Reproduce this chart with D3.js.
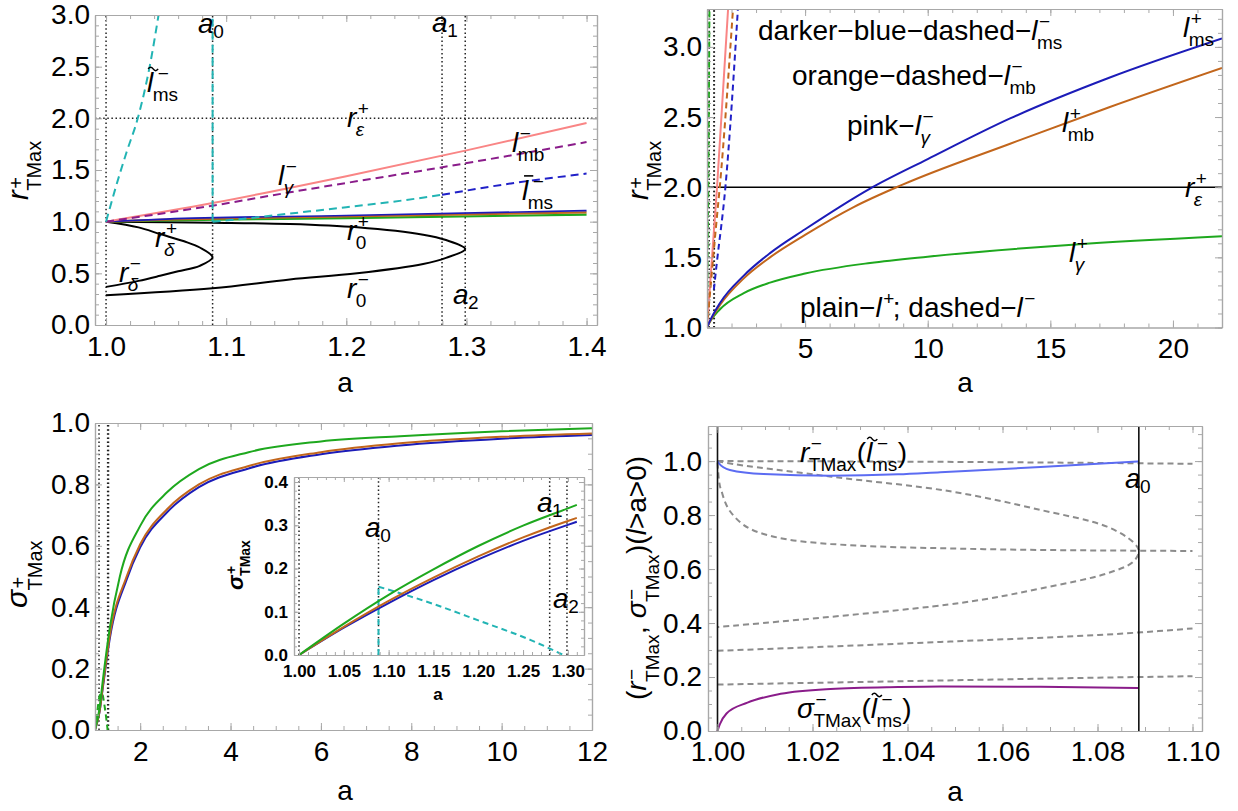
<!DOCTYPE html>
<html>
<head>
<meta charset="utf-8">
<script src="https://cdn.jsdelivr.net/npm/d3@7"></script>
<style>
body { margin: 0; background: #fff; }
text { font-family: 'Liberation Sans', Arial, Helvetica, sans-serif; fill: #000; }
</style>
</head>
<body>
<svg id="fig"></svg>
<script>
// special spins
var a0 = 1.0887, a1 = 1.2797, a2 = 1.2990;

// ---------- panel 1 : r+_TMax against a (small a) ----------
var p1XTicks = [1.0, 1.1, 1.2, 1.3, 1.4];
var p1YTicks = [0, 0.5, 1.0, 1.5, 2.0, 2.5, 3.0];
var p1Marks = [1.0, a0, a1, a2];
var p1REps = 2.0;
var p1LmsTilde = [[1.0, 1.0], [1.008, 1.33], [1.017, 1.67], [1.0264, 2.0], [1.0363, 2.5], [1.0437, 3.0]];
var p1A0Cyan = [[a0, 1.0], [a0, 3.0]];
var p1LmsBarCyan = [[a0, 1.0], [1.12, 1.035], [1.1527, 1.078], [1.2, 1.14], [1.25, 1.21], [a1, 1.26]];
var p1LmsBarBlue = [[a1, 1.26], [1.337, 1.37], [1.4, 1.465]];
var p1LgammaMinus = [[1.0, 1.0], [a0, 1.18], [1.2, 1.44], [1.3, 1.69], [1.4, 1.954]];
var p1LmbMinus = [[1.0, 1.0], [a0, 1.155], [1.153, 1.284], [1.28, 1.527], [1.4, 1.77]];
var p1LmsPlus = [[1.0, 1.0], [1.05, 1.025], [1.2, 1.06], [1.4, 1.107]];
var p1LmbPlus = [[1.0, 1.0], [1.05, 1.02], [1.2, 1.05], [1.4, 1.09]];
var p1LgammaPlus = [[1.0, 1.0], [1.05, 1.012], [1.2, 1.035], [1.4, 1.068]];
var p1RDelta = [[1.0, 1.0], [1.027, 0.945], [1.045, 0.88], [1.065, 0.81], [1.078, 0.75], [a0, 0.655],
                [1.078, 0.573], [1.06, 0.52], [1.045, 0.476], [1.027, 0.427], [1.0, 0.369]];
var p1R0 = [[1.0, 1.0], [a0, 0.99], [1.153, 0.977], [1.209, 0.945], [1.264, 0.874], [1.283, 0.822], [a2, 0.736],
            [1.283, 0.65], [1.264, 0.59], [1.209, 0.50], [1.153, 0.44], [a0, 0.356], [1.0, 0.288]];

// ---------- panel 2 : r+_TMax against a (large a) ----------
var p2XTicks = [5, 10, 15, 20];
var p2YTicks = [1.0, 1.5, 2.0, 2.5, 3.0];
var p2Marks = [a0, a1, a2];
var p2REps = 2.0;
var p2LmsPlus = [[1, 1], [1.1, 1.04], [1.53, 1.175], [2.5, 1.37], [3.57, 1.53], [5, 1.7], [7.65, 1.99],
                 [10, 2.2], [13.36, 2.49], [17.4, 2.78], [22, 3.06]];
var p2LmbPlus = [[1, 1], [1.1, 1.035], [1.53, 1.16], [2.5, 1.35], [3.57, 1.5], [5, 1.66], [7, 1.86],
                 [9, 2.02], [13.36, 2.31], [17.4, 2.57], [22, 2.85]];
var p2LgammaPlus = [[1, 1], [1.1, 1.035], [1.53, 1.13], [2.5, 1.245], [3.57, 1.32], [5, 1.385], [7.65, 1.46],
                    [10, 1.505], [15.9, 1.59], [22, 1.65]];
var p2LgammaMinus = [[1, 1], [1.41, 2.0], [1.86, 3.27]];
var p2LmbMinus = [[1, 1], [1.4, 1.78], [1.52, 2.0], [2.06, 3.27]];
var p2LmsMinus = [[a1, 1.27], [1.4, 1.46], [1.75, 2.0], [2.26, 3.27]];
var p2GreenDashed = [[1.0, 1.0], [1.05, 2.0], [1.1, 3.27]];

// ---------- panel 3 : sigma+_TMax against a ----------
var p3XTicks = [2, 4, 6, 8, 10, 12];
var p3YTicks = [0, 0.2, 0.4, 0.6, 0.8, 1.0];
var p3Marks = [a0, a1, a2];
var p3Lgamma = [[1, 0], [1.1, 0.07], [1.18, 0.17], [1.33, 0.335], [1.55, 0.5], [2, 0.665], [2.6, 0.775],
                [3.3, 0.85], [4.4, 0.905], [6, 0.94], [7.75, 0.957], [10, 0.973], [12, 0.983]];
var p3Lmb = [[1, 0], [1.1, 0.06], [1.18, 0.15], [1.33, 0.31], [1.7, 0.5], [2, 0.605], [2.6, 0.72],
             [3.3, 0.8], [4.4, 0.86], [6, 0.905], [7.75, 0.934], [10, 0.955], [12, 0.966]];
var p3Lms = [[1, 0], [1.1, 0.058], [1.18, 0.145], [1.33, 0.3], [1.7, 0.49], [2, 0.595], [2.6, 0.71],
             [3.3, 0.791], [4.4, 0.852], [6, 0.898], [7.75, 0.927], [10, 0.949], [12, 0.961]];
var p3GreenDashed = [[1.0, 0], [1.05, 0.06], [1.1, 0.11], [1.15, 0.12], [1.22, 0.07], [1.28, 0.0]];

// inset of panel 3
var inXTicks = [1.00, 1.05, 1.10, 1.15, 1.20, 1.25, 1.30];
var inYTicks = [0, 0.1, 0.2, 0.3, 0.4];
var inMarks = [1.0, a0, a1, a2];
var inLgamma = [[1, 0], [1.05, 0.0725], [1.1, 0.139], [1.15, 0.198], [1.2, 0.252], [1.25, 0.299], [1.3, 0.339], [1.31, 0.347]];
var inLmb = [[1, 0], [1.05, 0.065], [1.1, 0.125], [1.15, 0.179], [1.2, 0.228], [1.25, 0.272], [1.3, 0.31], [1.31, 0.317]];
var inLms = [[1, 0], [1.05, 0.063], [1.1, 0.12], [1.15, 0.173], [1.2, 0.221], [1.25, 0.264], [1.3, 0.301], [1.31, 0.308]];
var inCyanUp = [[a0, 0], [a0, 0.158]];
var inCyanDown = [[a0, 0.158], [1.15, 0.118], [1.2, 0.08], [1.258, 0.035], [1.295, 0]];

// ---------- panel 4 : (r-_TMax, sigma-_TMax) for l > a > 0 ----------
var p4XTicks = [1.00, 1.02, 1.04, 1.06, 1.08, 1.10];
var p4YTicks = [0, 0.2, 0.4, 0.6, 0.8, 1.0];
var p4Marks = [1.0, a0];
var p4R = [[1.0, 1.0], [1.0002, 0.993], [1.0026, 0.967], [1.0097, 0.952], [1.0238, 0.946], [1.038, 0.951],
           [1.0469, 0.959], [1.068, 0.978], [a0, 0.999]];
var p4Sigma = [[1.0, 0.0], [1.0005, 0.025], [1.0019, 0.065], [1.0063, 0.105], [1.0133, 0.138], [1.0238, 0.156],
               [1.038, 0.163], [1.047, 0.165], [1.068, 0.164], [a0, 0.159]];
var p4GrayA = [[1.0, 1.0], [1.05, 0.997], [1.1, 0.99]];
var p4GrayDelta = [[1.0, 1.0], [1.0019, 0.993], [1.024, 0.942], [1.049, 0.888], [1.068, 0.819], [1.082, 0.757],
                   [1.0875, 0.70], [a0, 0.667], [1.0875, 0.627], [1.082, 0.584], [1.068, 0.528], [1.051, 0.474], [1.0, 0.385]];
var p4GrayD = [[1.0, 0.995], [1.0003, 0.93], [1.001, 0.88], [1.0026, 0.815], [1.0097, 0.73], [1.0238, 0.693],
               [1.05, 0.676], [a0, 0.668], [1.1, 0.667]];
var p4GrayE = [[1.0, 0.297], [1.047, 0.33], [a0, 0.365], [1.1, 0.38]];
var p4GrayF = [[1.0, 0.172], [1.047, 0.187], [a0, 0.2], [1.1, 0.203]];

////////////////////////
//
// helpers
//
////////////////////////

var FRAME = "#a8a8a8";
var BLUE = "#1c1cb8", BROWN = "#c2661c", GREEN = "#1ea81e", PINK = "#f98585",
    PURPLE = "#8a1c8a", CYAN = "#22b4b4", BLUE_D = "#2020c8", LIGHT_BLUE = "#5c6cf2", GRAY = "#8c8c8c";

var svg = d3.select("#fig").attr("width", 1238).attr("height", 811);
svg.append("rect").attr("width", 1238).attr("height", 811).attr("fill", "#fff");
var defs = svg.append("defs");

function steps(lo, hi, st) {
    return d3.range(0, Math.round((hi - lo) / st) + 1).map(function (i) {
        return +(lo + i * st).toFixed(4);
    });
}

function makePanel(c) {
    var p = {c: c};
    p.x = d3.scaleLinear().domain(c.xd).range([c.l, c.r]);
    p.y = d3.scaleLinear().domain(c.yd).range([c.b, c.t]);
    p.g = svg.append("g");
    if (c.bg) {
        p.g.append("rect").attr("x", c.l).attr("y", c.t)
            .attr("width", c.r - c.l).attr("height", c.b - c.t).attr("fill", "#fff");
    }
    defs.append("clipPath").attr("id", "clip-" + c.name).append("rect")
        .attr("x", c.l).attr("y", c.t).attr("width", c.r - c.l).attr("height", c.b - c.t);
    p.plot = p.g.append("g").attr("clip-path", "url(#clip-" + c.name + ")");
    p.axes = p.g.append("g");
    p.ann = p.g.append("g");
    drawAxes(p);
    return p;
}

function drawAxes(p) {
    var c = p.c, big = c.tick || 7, small = c.minor || 4;
    function side(axis, tr, vals, len, fmt, pad) {
        var a = p.axes.append("g").attr("transform", tr)
            .call(axis.tickValues(vals).tickSize(-len).tickSizeOuter(0)
                .tickPadding(pad || 0).tickFormat(fmt || ""));
        a.select(".domain").attr("stroke", FRAME).attr("stroke-width", 1.2);
        a.selectAll(".tick line").attr("stroke", FRAME).attr("stroke-width", 1);
        a.selectAll("text").attr("font-size", c.fs).attr("font-weight", c.bold ? "bold" : "normal")
            .attr("font-family", "'Liberation Sans', Arial, sans-serif").attr("fill", "#000");
    }
    side(d3.axisBottom(p.x), "translate(0," + c.b + ")", c.xMinor, small);
    side(d3.axisBottom(p.x), "translate(0," + c.b + ")", c.xMajor, big, c.xf, c.xpad);
    side(d3.axisTop(p.x), "translate(0," + c.t + ")", c.xMinor, small);
    side(d3.axisTop(p.x), "translate(0," + c.t + ")", c.xMajor, big);
    side(d3.axisLeft(p.y), "translate(" + c.l + ",0)", c.yMinor, small);
    side(d3.axisLeft(p.y), "translate(" + c.l + ",0)", c.yMajor, big, c.yf, c.ypad);
    side(d3.axisRight(p.y), "translate(" + c.r + ",0)", c.yMinor, small);
    side(d3.axisRight(p.y), "translate(" + c.r + ",0)", c.yMajor, big);
}

function curve(p, data, color, st) {
    st = st || {};
    var line = d3.line()
        .x(function (d) { return p.x(d[0]); })
        .y(function (d) { return p.y(d[1]); })
        .curve(st.curve || d3.curveMonotoneX);
    p.plot.append("path").datum(data)
        .attr("fill", "none")
        .attr("stroke", color)
        .attr("stroke-width", st.w || 2)
        .attr("stroke-dasharray", st.dash || null)
        .attr("d", line);
}

var LOOP = d3.curveCatmullRom.alpha(0.5);
var DOTTED = {dash: "1.5,2.6", w: 1.5, curve: d3.curveLinear};

function vline(p, a, color, st) {
    var yd = p.y.domain();
    curve(p, [[a, yd[0]], [a, yd[1]]], color, st);
}
function hline(p, v, color, st) {
    var xd = p.x.domain();
    curve(p, [[xd[0], v], [xd[1], v]], color, st);
}

// text with italic main glyph, stacked super/subscripts and accents
function mlabel(parent, x, y, segs, o) {
    o = o || {};
    var fs = o.fs || 28, ss = o.ss || 19, fw = o.bold ? "bold" : "normal";
    var outer = parent.append("g")
        .attr("transform", "translate(" + x + "," + y + ")" + (o.rot ? " rotate(" + o.rot + ")" : ""));
    var g = outer.append("g");
    var cx = 0;
    function put(t, size, px, py, it) {
        var n = g.append("text").attr("x", px).attr("y", py)
            .attr("font-size", size).attr("font-weight", fw)
            .attr("font-style", it ? "italic" : "normal").text(t);
        return n.node().getComputedTextLength();
    }
    segs.forEach(function (s) {
        var size = s.fs || fs;
        var w = put(s.t, size, cx, 0, s.i);
        var shift = 0;
        if (s.acc === "~") {
            // small drawn tilde over the glyph
            var tx = cx + w / 2 + 3, ty = -size * 0.86;
            g.append("path")
                .attr("d", "M" + (tx - 5) + "," + (ty + 1) + " q2.5,-3.5 5,0 t5,0")
                .attr("fill", "none").attr("stroke", "#000").attr("stroke-width", 1.5);
            shift = 3;
        }
        if (s.acc === "-") {
            g.append("line").attr("x1", cx + 2).attr("x2", cx + w + 5)
                .attr("y1", -size * 0.86).attr("y2", -size * 0.86)
                .attr("stroke", "#000").attr("stroke-width", 1.6);
            shift = 3;
        }
        var both = s.sup && s.sub, sw = 0, bw = 0;
        var supDy = o.supDy != null ? o.supDy : -size * 0.42;
        var subDy = o.subDy != null ? o.subDy : (both ? size * 0.33 : size * 0.17);
        if (s.sup) sw = put(s.sup, ss, cx + w + shift + (s.i ? 1.5 : 0.5), supDy, false) + shift;
        if (s.sub) bw = put(s.sub, ss, cx + w + (s.i ? -0.5 : 0.5), subDy, s.subI);
        cx += w + Math.max(sw, bw);
    });
    if (o.anchor === "middle") g.attr("transform", "translate(" + (-cx / 2) + ",0)");
    return cx;
}

function lab(p, a, v, segs, o) {
    return mlabel(p.ann, p.x(a), p.y(v), segs, o);
}

var f1 = d3.format(".1f"), f2 = d3.format(".2f"), fd = d3.format("d");

////////////////////////
//
// panel 1
//
////////////////////////

var p1 = makePanel({name: "p1", l: 95, r: 597, t: 15, b: 325, xd: [0.9908, 1.4087], yd: [0, 3],
    xMajor: p1XTicks, xMinor: steps(1, 1.4, 0.02), yMajor: p1YTicks, yMinor: steps(0, 3, 0.1),
    xf: f1, yf: f1, fs: 28, xpad: 11, ypad: 5});

p1Marks.forEach(function (m) { vline(p1, m, "#222", DOTTED); });
hline(p1, p1REps, "#222", DOTTED);
curve(p1, p1RDelta, "#000", {curve: LOOP});
curve(p1, p1R0, "#000", {curve: LOOP});
curve(p1, p1LgammaPlus, GREEN, {w: 2.2});
curve(p1, p1LmbPlus, BROWN, {w: 2.2});
curve(p1, p1LmsPlus, BLUE, {w: 1.6});
curve(p1, p1LgammaMinus, PINK);
curve(p1, p1LmbMinus, PURPLE, {dash: "8,5"});
curve(p1, p1LmsBarCyan, CYAN, {dash: "8,5"});
curve(p1, p1LmsBarBlue, BLUE_D, {dash: "8,5"});
curve(p1, p1LmsTilde, CYAN, {dash: "8,5"});
curve(p1, p1A0Cyan, CYAN, {dash: "8,5", curve: d3.curveLinear});

lab(p1, 1.0766, 2.826, [{t: "a", i: 1, sub: "0"}]);
lab(p1, 1.2714, 2.836, [{t: "a", i: 1, sub: "1"}]);
lab(p1, 1.2888, 0.203, [{t: "a", i: 1, sub: "2"}]);
lab(p1, 1.2006, 1.916, [{t: "r", i: 1, sup: "+", sub: "ε", subI: 1}]);
lab(p1, 1.0341, 2.255, [{t: "l", i: 1, acc: "~", sup: "−", sub: "ms"}]);
lab(p1, 1.1432, 1.355, [{t: "l", i: 1, sup: "−", sub: "γ", subI: 1}]);
lab(p1, 1.338, 1.674, [{t: "l", i: 1, sup: "−", sub: "mb"}]);
lab(p1, 1.3463, 1.21, [{t: "l", i: 1, acc: "-", sup: "−", sub: "ms"}]);
lab(p1, 1.0408, 0.755, [{t: "r", i: 1, sup: "+", sub: "δ", subI: 1}]);
lab(p1, 1.0108, 0.416, [{t: "r", i: 1, sup: "−", sub: "δ", subI: 1}]);
lab(p1, 1.2006, 0.823, [{t: "r", i: 1, sup: "+", sub: "0"}]);
lab(p1, 1.2006, 0.261, [{t: "r", i: 1, sup: "−", sub: "0"}]);

mlabel(svg, 345, 392, [{t: "a"}], {anchor: "middle"});
mlabel(svg, 28, 200, [{t: "r", i: 1, sup: "+", sub: "TMax"}], {rot: -90, fs: 29, ss: 20, subDy: 13, supDy: -5});

////////////////////////
//
// panel 2
//
////////////////////////

var p2 = makePanel({name: "p2", l: 707, r: 1222, t: 9, b: 327.5, xd: [1, 22], yd: [1, 3.27],
    xMajor: p2XTicks, xMinor: steps(1, 22, 1), yMajor: p2YTicks, yMinor: steps(1, 3.2, 0.1),
    xf: fd, yf: f1, fs: 28, xpad: 11, ypad: 5});

p2Marks.forEach(function (m) { vline(p2, m, "#222", DOTTED); });
hline(p2, p2REps, "#000", {w: 1.6, curve: d3.curveLinear});
curve(p2, p2GreenDashed, GREEN, {dash: "6,4"});
curve(p2, p2LgammaMinus, PINK);
curve(p2, p2LmbMinus, BROWN, {dash: "6,4"});
curve(p2, p2LmsMinus, BLUE_D, {dash: "6,4"});
curve(p2, p2LgammaPlus, GREEN);
curve(p2, p2LmbPlus, BROWN);
curve(p2, p2LmsPlus, BLUE);

lab(p2, 3.08, 3.049, [{t: "darker−blue−dashed−"}, {t: "l", i: 1, sup: "−", sub: "ms"}]);
lab(p2, 4.466, 2.728, [{t: "orange−dashed−"}, {t: "l", i: 1, sup: "−", sub: "mb"}]);
lab(p2, 6.709, 2.372, [{t: "pink−"}, {t: "l", i: 1, sup: "−", sub: "γ", subI: 1}]);
lab(p2, 20.41, 3.071, [{t: "l", i: 1, sup: "+", sub: "ms"}]);
lab(p2, 15.476, 2.393, [{t: "l", i: 1, sup: "+", sub: "mb"}]);
lab(p2, 20.49, 1.93, [{t: "r", i: 1, sup: "+", sub: "ε", subI: 1}]);
lab(p2, 15.76, 1.467, [{t: "l", i: 1, sup: "+", sub: "γ", subI: 1}]);
lab(p2, 4.79, 1.075, [{t: "plain−"}, {t: "l", i: 1, sup: "+"}, {t: ";\u00a0dashed−"}, {t: "l", i: 1, sup: "−"}]);

mlabel(svg, 965, 392, [{t: "a"}], {anchor: "middle"});
mlabel(svg, 648, 200, [{t: "r", i: 1, sup: "+", sub: "TMax"}], {rot: -90, fs: 29, ss: 20, subDy: 13, supDy: -5});

////////////////////////
//
// panel 3 and inset
//
////////////////////////

var p3 = makePanel({name: "p3", l: 95, r: 592, t: 423, b: 730, xd: [1, 12], yd: [0, 1],
    xMajor: p3XTicks, xMinor: steps(1, 12, 0.5), yMajor: p3YTicks, yMinor: steps(0, 1, 0.05),
    xf: fd, yf: f1, fs: 28, xpad: 11, ypad: 5});

p3Marks.forEach(function (m) { vline(p3, m, "#222", DOTTED); });
curve(p3, p3GreenDashed, GREEN, {dash: "6,4"});
curve(p3, p3Lms, BLUE);
curve(p3, p3Lmb, BROWN);
curve(p3, p3Lgamma, GREEN);

mlabel(svg, 345, 800, [{t: "a"}], {anchor: "middle"});
mlabel(svg, 27, 608, [{t: "σ", i: 1, sup: "+", sub: "TMax"}], {rot: -90, fs: 30, ss: 20, subDy: 15, supDy: -2});

var pin = makePanel({name: "inset", l: 294, r: 584, t: 477, b: 655, xd: [0.9944, 1.318], yd: [0, 0.4116],
    xMajor: inXTicks, xMinor: steps(1, 1.31, 0.01), yMajor: inYTicks, yMinor: steps(0, 0.4, 0.02),
    xf: f2, yf: f1, fs: 17, bold: true, xpad: 10, ypad: 6, tick: 5, minor: 3, bg: true});

inMarks.forEach(function (m) { vline(pin, m, "#222", DOTTED); });
curve(pin, inCyanUp, CYAN, {dash: "6,4", curve: d3.curveLinear});
curve(pin, inCyanDown, CYAN, {dash: "6,4"});
curve(pin, inLms, BLUE);
curve(pin, inLmb, BROWN);
curve(pin, inLgamma, GREEN);

lab(pin, 1.0737, 0.273, [{t: "a", i: 1, sub: "0"}]);
lab(pin, 1.2656, 0.331, [{t: "a", i: 1, sub: "1"}]);
lab(pin, 1.2835, 0.109, [{t: "a", i: 1, sub: "2"}]);

mlabel(svg, 438, 700, [{t: "a"}], {anchor: "middle", fs: 17, bold: true});
mlabel(svg, 243, 590, [{t: "σ", i: 1, sup: "+", sub: "TMax"}], {rot: -90, fs: 22, ss: 14, bold: true, subDy: 7, supDy: -7});

////////////////////////
//
// panel 4
//
////////////////////////

var p4 = makePanel({name: "p4", l: 708, r: 1202, t: 426, b: 731, xd: [0.998, 1.102], yd: [0, 1.13],
    xMajor: p4XTicks, xMinor: steps(1, 1.1, 0.005), yMajor: p4YTicks, yMinor: steps(0, 1.1, 0.05),
    xf: f2, yf: f1, fs: 28, xpad: 10, ypad: 6});

[p4GrayA, p4GrayD, p4GrayE, p4GrayF].forEach(function (d) {
    curve(p4, d, GRAY, {dash: "6,4"});
});
curve(p4, p4GrayDelta, GRAY, {dash: "6,4", curve: LOOP});
curve(p4, p4R, LIGHT_BLUE);
curve(p4, p4Sigma, PURPLE);
p4Marks.forEach(function (m) { vline(p4, m, "#111", {w: 1.6, curve: d3.curveLinear}); });

lab(p4, 1.01737, 0.996, [{t: "r", i: 1, sup: "−", sub: "TMax"}, {t: "("}, {t: "l", i: 1, acc: "~", sup: "−", sub: "ms"}, {t: ")"}]);
lab(p4, 1.01674, 0.048, [{t: "σ", i: 1, sup: "−", sub: "TMax"}, {t: "("}, {t: "l", i: 1, acc: "~", sup: "−", sub: "ms"}, {t: ")"}]);
lab(p4, 1.08579, 0.9, [{t: "a", i: 1, sub: "0"}]);

mlabel(svg, 955, 801, [{t: "a"}], {anchor: "middle"});
mlabel(svg, 646, 578, [{t: "("}, {t: "r", i: 1, sup: "−", sub: "TMax"}, {t: ",\u00a0"}, {t: "σ", i: 1, sup: "−", sub: "TMax"},
    {t: ")("}, {t: "l", i: 1}, {t: ">a>0)"}], {rot: -90, anchor: "middle", fs: 28, ss: 19, subDy: 13, supDy: -8});
</script>
</body>
</html>
